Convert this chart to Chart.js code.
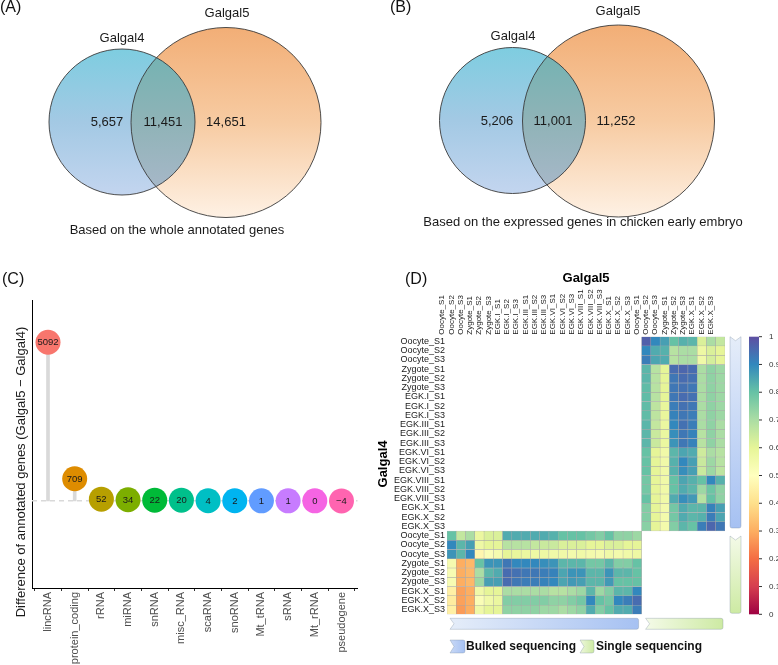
<!DOCTYPE html>
<html>
<head>
<meta charset="utf-8">
<script src="https://cdn.jsdelivr.net/npm/chart.js@4.4.1/dist/chart.umd.min.js"></script>
<style>
  html, body { margin: 0; padding: 0; background: #fff; }
  #page { position: relative; width: 778px; height: 665px; overflow: hidden; }
  canvas { position: absolute; }
</style>
</head>
<body>
<div id="page">
  <canvas id="vennA" width="390" height="260" style="left:0;top:0;"></canvas>
  <canvas id="vennB" width="388" height="260" style="left:390px;top:0;"></canvas>
  <canvas id="lolli" width="370" height="395" style="left:0;top:270px;"></canvas>
  <canvas id="heat" width="408" height="395" style="left:370px;top:270px;"></canvas>
</div>
<script>
// ---- data ----
const vennSets = ['Galgal4', 'Galgal5'];
// only Galgal4, shared, only Galgal5
const countsAll = [5657, 11451, 14651];
const countsExpressed = [5206, 11001, 11252];
const captionAll = 'Based on the whole annotated genes';
const captionExpressed = 'Based on the expressed genes in chicken early embryo';

const rnaTypes = ['lincRNA', 'protein_coding', 'rRNA', 'miRNA', 'snRNA', 'misc_RNA',
  'scaRNA', 'snoRNA', 'Mt_tRNA', 'sRNA', 'Mt_rRNA', 'pseudogene'];
const geneDiff = [5092, 709, 52, 34, 22, 20, 4, 2, 1, 1, 0, -4];
const rnaColors = ['#F8766D', '#DE8C00', '#B79F00', '#7CAE00', '#00BA38', '#00C08B',
  '#00BFC4', '#00B4F0', '#619CFF', '#C77CFF', '#F564E3', '#FF64B0'];

const bulkSamples = ['Oocyte_S1', 'Oocyte_S2', 'Oocyte_S3', 'Zygote_S1', 'Zygote_S2', 'Zygote_S3',
  'EGK.I_S1', 'EGK.I_S2', 'EGK.I_S3', 'EGK.III_S1', 'EGK.III_S2', 'EGK.III_S3',
  'EGK.VI_S1', 'EGK.VI_S2', 'EGK.VI_S3', 'EGK.VIII_S1', 'EGK.VIII_S2', 'EGK.VIII_S3',
  'EGK.X_S1', 'EGK.X_S2', 'EGK.X_S3'];
const singleSamples = ['Oocyte_S1', 'Oocyte_S2', 'Oocyte_S3', 'Zygote_S1', 'Zygote_S2', 'Zygote_S3',
  'EGK.X_S1', 'EGK.X_S2', 'EGK.X_S3'];
const heatRows = bulkSamples.concat(singleSamples); // Galgal4
const heatCols = bulkSamples.concat(singleSamples); // Galgal5

// rows: Galgal4 bulk samples, cols: Galgal5 single samples
const bulk4Single5 = [
  [0.97, 0.90, 0.86, 0.80, 0.83, 0.82, 0.62, 0.70, 0.66],
  [0.90, 0.84, 0.83, 0.68, 0.70, 0.70, 0.57, 0.62, 0.60],
  [0.92, 0.85, 0.84, 0.68, 0.70, 0.70, 0.56, 0.63, 0.60],
  [0.82, 0.68, 0.60, 0.95, 0.96, 0.95, 0.70, 0.74, 0.72],
  [0.82, 0.68, 0.60, 0.93, 0.95, 0.94, 0.70, 0.74, 0.72],
  [0.81, 0.68, 0.60, 0.93, 0.94, 0.93, 0.70, 0.74, 0.72],
  [0.81, 0.68, 0.60, 0.93, 0.95, 0.94, 0.70, 0.74, 0.72],
  [0.81, 0.67, 0.59, 0.92, 0.94, 0.93, 0.70, 0.74, 0.72],
  [0.81, 0.67, 0.59, 0.91, 0.93, 0.92, 0.70, 0.74, 0.72],
  [0.82, 0.66, 0.58, 0.90, 0.94, 0.92, 0.70, 0.74, 0.70],
  [0.82, 0.65, 0.58, 0.89, 0.93, 0.91, 0.68, 0.74, 0.70],
  [0.82, 0.65, 0.58, 0.88, 0.93, 0.91, 0.68, 0.74, 0.70],
  [0.80, 0.60, 0.56, 0.82, 0.85, 0.84, 0.64, 0.70, 0.68],
  [0.80, 0.60, 0.56, 0.83, 0.90, 0.86, 0.65, 0.72, 0.68],
  [0.80, 0.60, 0.56, 0.83, 0.89, 0.86, 0.65, 0.72, 0.67],
  [0.78, 0.60, 0.56, 0.80, 0.85, 0.83, 0.80, 0.90, 0.83],
  [0.78, 0.60, 0.56, 0.80, 0.84, 0.82, 0.72, 0.79, 0.74],
  [0.80, 0.60, 0.56, 0.84, 0.89, 0.87, 0.68, 0.80, 0.74],
  [0.76, 0.60, 0.55, 0.78, 0.84, 0.82, 0.82, 0.91, 0.86],
  [0.76, 0.60, 0.55, 0.78, 0.84, 0.82, 0.83, 0.92, 0.85],
  [0.75, 0.60, 0.55, 0.76, 0.82, 0.80, 0.92, 0.96, 0.93]
];
// rows: Galgal4 single samples, cols: Galgal5 bulk samples
const single4Bulk5 = [
  [0.80, 0.66, 0.70, 0.58, 0.62, 0.62, 0.84, 0.84, 0.84, 0.84, 0.84, 0.83, 0.80, 0.80, 0.80, 0.78, 0.76, 0.80, 0.74, 0.74, 0.72],
  [0.90, 0.82, 0.86, 0.57, 0.60, 0.60, 0.68, 0.68, 0.68, 0.66, 0.65, 0.65, 0.62, 0.62, 0.62, 0.60, 0.60, 0.62, 0.62, 0.60, 0.60],
  [0.88, 0.82, 0.90, 0.47, 0.52, 0.54, 0.60, 0.59, 0.58, 0.57, 0.57, 0.56, 0.56, 0.55, 0.56, 0.55, 0.54, 0.56, 0.55, 0.56, 0.57],
  [0.54, 0.30, 0.32, 0.80, 0.88, 0.88, 0.93, 0.90, 0.90, 0.90, 0.89, 0.88, 0.82, 0.82, 0.82, 0.78, 0.78, 0.82, 0.76, 0.76, 0.80],
  [0.53, 0.30, 0.32, 0.70, 0.82, 0.84, 0.95, 0.94, 0.93, 0.93, 0.92, 0.91, 0.85, 0.88, 0.88, 0.82, 0.82, 0.88, 0.82, 0.82, 0.80],
  [0.53, 0.30, 0.32, 0.72, 0.86, 0.86, 0.95, 0.93, 0.92, 0.92, 0.91, 0.90, 0.85, 0.87, 0.86, 0.82, 0.82, 0.87, 0.80, 0.80, 0.80],
  [0.45, 0.28, 0.30, 0.56, 0.60, 0.60, 0.70, 0.70, 0.70, 0.70, 0.70, 0.68, 0.68, 0.70, 0.72, 0.82, 0.72, 0.76, 0.82, 0.82, 0.90],
  [0.44, 0.28, 0.30, 0.52, 0.56, 0.58, 0.76, 0.76, 0.76, 0.76, 0.76, 0.74, 0.74, 0.76, 0.78, 0.90, 0.80, 0.78, 0.90, 0.92, 0.95],
  [0.45, 0.27, 0.30, 0.56, 0.60, 0.60, 0.74, 0.74, 0.74, 0.74, 0.72, 0.72, 0.70, 0.72, 0.74, 0.84, 0.76, 0.80, 0.84, 0.84, 0.92]
];
const colorbarTicks = [0, 0.1, 0.2, 0.3, 0.4, 0.5, 0.6, 0.7, 0.8, 0.9, 1];

// ---- helpers ----
Chart.defaults.font.family = '"Liberation Sans", Arial, Helvetica, sans-serif';
Chart.defaults.color = '#1a1a1a';

const spectralStops = ['#9e0142', '#d53e4f', '#f46d43', '#fdae61', '#fee08b', '#ffffbf',
  '#e6f598', '#abdda4', '#66c2a5', '#3288bd', '#5e4fa2'];
function hexRgb(h) {
  return [parseInt(h.slice(1, 3), 16), parseInt(h.slice(3, 5), 16), parseInt(h.slice(5, 7), 16)];
}
function spectral(v) {
  const t = Math.max(0, Math.min(1, v)) * (spectralStops.length - 1);
  const i = Math.min(Math.floor(t), spectralStops.length - 2);
  const f = t - i;
  const a = hexRgb(spectralStops[i]), b = hexRgb(spectralStops[i + 1]);
  const c = a.map((x, k) => Math.round(x + (b[k] - x) * f));
  return `rgb(${c[0]},${c[1]},${c[2]})`;
}
function cellValue(r, c) {
  const nb = bulkSamples.length;
  if (r < nb && c >= nb) return bulk4Single5[r][c - nb];
  if (r >= nb && c < nb) return single4Bulk5[r - nb][c];
  return null;
}
function panelTag(ctx, text, x, y) {
  ctx.save();
  ctx.font = '16px "Liberation Sans", Arial, sans-serif';
  ctx.fillStyle = '#111';
  ctx.textBaseline = 'middle';
  ctx.fillText(text, x, y);
  ctx.restore();
}

// ---- Venn panels (A, B) ----
const vennStyle = {
  blue: ['#7ecde0', '#a3c9e4', '#c3d5ef'],
  orange: ['#f2ae76', '#f7cba2', '#fef1e4'],
  both: ['#72b3b2', '#8fb3b7', '#a9b8ca']
};
function gradFor(ctx, c, stops) {
  const g = ctx.createLinearGradient(0, c.y - c.r, 0, c.y + c.r);
  stops.forEach((s, i) => g.addColorStop(i / (stops.length - 1), s));
  return g;
}
function vennPlugin(layout, counts, caption, tag) {
  return {
    id: 'venn',
    afterDraw(chart) {
      const ctx = chart.ctx;
      const [c4, c5] = layout.circles;
      const disc = c => { ctx.beginPath(); ctx.arc(c.x, c.y, c.r, 0, Math.PI * 2); };
      ctx.save();
      disc(c5); ctx.fillStyle = gradFor(ctx, c5, vennStyle.orange); ctx.fill();
      disc(c4); ctx.fillStyle = gradFor(ctx, c4, vennStyle.blue); ctx.fill();
      ctx.save();
      disc(c5); ctx.clip();
      disc(c4); ctx.fillStyle = gradFor(ctx, c4, vennStyle.both); ctx.fill();
      ctx.restore();
      ctx.strokeStyle = '#3a3a3a';
      ctx.lineWidth = 0.9;
      disc(c5); ctx.stroke();
      disc(c4); ctx.stroke();

      ctx.fillStyle = '#1a1a1a';
      ctx.font = '13px "Liberation Sans", Arial, sans-serif';
      ctx.textAlign = 'center';
      ctx.textBaseline = 'middle';
      vennSets.forEach((s, i) => ctx.fillText(s, layout.setLabels[i].x, layout.setLabels[i].y));
      counts.forEach((n, i) => ctx.fillText(n.toLocaleString('en-US'), layout.countX[i], layout.countY));
      ctx.fillText(caption, layout.caption.x, layout.caption.y);
      ctx.restore();
      panelTag(ctx, tag, 0, 8);
    }
  };
}
function vennChart(id, layout, counts, caption, tag) {
  new Chart(document.getElementById(id), {
    type: 'scatter',
    data: { datasets: [] },
    options: {
      responsive: false, animation: false, events: [],
      plugins: { legend: { display: false }, tooltip: { enabled: false } },
      scales: { x: { display: false }, y: { display: false } }
    },
    plugins: [vennPlugin(layout, counts, caption, tag)]
  });
}
vennChart('vennA', {
  circles: [{ x: 122, y: 122, r: 73 }, { x: 226, y: 122.5, r: 95 }],
  setLabels: [{ x: 122, y: 38 }, { x: 227, y: 13 }],
  countX: [107, 163, 226], countY: 122,
  caption: { x: 177, y: 230 }
}, countsAll, captionAll, '(A)');
vennChart('vennB', {
  circles: [{ x: 122.5, y: 120.5, r: 73 }, { x: 228.5, y: 121, r: 96 }],
  setLabels: [{ x: 123, y: 36 }, { x: 228, y: 11 }],
  countX: [107, 163, 226], countY: 121,
  caption: { x: 193, y: 222 }
}, countsExpressed, captionExpressed, '(B)');

// ---- lollipop panel (C) ----
const lolliDecor = {
  id: 'lolliDecor',
  beforeDatasetsDraw(chart) {
    const { ctx, chartArea, scales } = chart;
    const y0 = scales.y.getPixelForValue(0);
    ctx.save();
    ctx.strokeStyle = '#d9d9d9';
    ctx.lineWidth = 1.5;
    ctx.setLineDash([5, 4]);
    ctx.beginPath();
    ctx.moveTo(chartArea.left, y0);
    ctx.lineTo(chartArea.right, y0);
    ctx.stroke();
    ctx.restore();
  },
  afterDatasetsDraw(chart) {
    const ctx = chart.ctx;
    const meta = chart.getDatasetMeta(0);
    ctx.save();
    ctx.font = '9.5px "Liberation Sans", Arial, sans-serif';
    ctx.fillStyle = '#1a1a1a';
    ctx.textAlign = 'center';
    ctx.textBaseline = 'middle';
    meta.data.forEach((pt, i) => {
      const v = geneDiff[i];
      ctx.fillText(v < 0 ? '\u2212' + Math.abs(v) : String(v), pt.x, pt.y + 0.5);
    });
    ctx.restore();
  },
  afterDraw(chart) {
    const ctx = chart.ctx;
    ctx.save();
    ctx.translate(21, 202);
    ctx.rotate(-Math.PI / 2);
    ctx.font = '13px "Liberation Sans", Arial, sans-serif';
    ctx.fillStyle = '#1a1a1a';
    ctx.textAlign = 'center';
    ctx.textBaseline = 'middle';
    ctx.fillText('Difference of annotated genes (Galgal5 \u2212 Galgal4)', 0, 0);
    ctx.restore();
    panelTag(ctx, '(C)', 2, 10);
  }
};
new Chart(document.getElementById('lolli'), {
  data: {
    datasets: [
      {
        type: 'scatter',
        data: geneDiff.map((v, i) => ({ x: i, y: v })),
        backgroundColor: rnaColors,
        borderWidth: 0,
        pointRadius: 12.5,
        pointHoverRadius: 12.5,
        order: 0
      },
      {
        type: 'bar',
        data: geneDiff.map((v, i) => ({ x: i, y: v })),
        backgroundColor: '#d9d9d9',
        barThickness: 3,
        order: 1
      }
    ]
  },
  options: {
    responsive: false, animation: false, events: [],
    layout: { padding: { left: 14, top: 30, right: 8, bottom: 0 } },
    plugins: { legend: { display: false }, tooltip: { enabled: false } },
    scales: {
      x: {
        type: 'linear', min: -0.6, max: 11.6, offset: false,
        afterBuildTicks: s => { s.ticks = rnaTypes.map((_, i) => ({ value: i })); },
        afterFit: s => { s.height = 77; },
        ticks: {
          autoSkip: false, minRotation: 90, maxRotation: 90, padding: 1,
          color: '#4d4d4d', font: { size: 11 },
          callback: (v, i) => rnaTypes[i]
        },
        grid: { display: true, drawOnChartArea: false, drawTicks: true, tickLength: 3, color: '#333' },
        border: { display: true, color: '#000', width: 1 }
      },
      y: {
        type: 'linear', min: -2800, max: 6450,
        afterFit: s => { s.width = 18; },
        ticks: { display: false },
        grid: { display: false, drawTicks: false },
        border: { display: true, color: '#000', width: 1 }
      }
    }
  },
  plugins: [lolliDecor]
});

// ---- heatmap panel (D) ----
function annotBar(ctx, x, y, w, h, vertical, c0, c1) {
  const n = 4;
  const g = vertical ? ctx.createLinearGradient(0, y, 0, y + h) : ctx.createLinearGradient(x, 0, x + w, 0);
  g.addColorStop(0, c0);
  g.addColorStop(1, c1);
  ctx.beginPath();
  if (vertical) {
    ctx.moveTo(x, y);
    ctx.lineTo(x + w / 2, y + n);
    ctx.lineTo(x + w, y);
    ctx.lineTo(x + w, y + h - 2);
    ctx.quadraticCurveTo(x + w, y + h, x + w - 2, y + h);
    ctx.lineTo(x + 2, y + h);
    ctx.quadraticCurveTo(x, y + h, x, y + h - 2);
  } else {
    ctx.moveTo(x, y);
    ctx.lineTo(x + w - 2, y);
    ctx.quadraticCurveTo(x + w, y, x + w, y + 2);
    ctx.lineTo(x + w, y + h - 2);
    ctx.quadraticCurveTo(x + w, y + h, x + w - 2, y + h);
    ctx.lineTo(x, y + h);
    ctx.lineTo(x + n, y + h / 2);
  }
  ctx.closePath();
  ctx.fillStyle = g;
  ctx.fill();
  ctx.strokeStyle = 'rgba(110,130,150,0.3)';
  ctx.lineWidth = 1;
  ctx.stroke();
}
const heatDecor = {
  id: 'heatDecor',
  afterDraw(chart) {
    const { ctx, chartArea, scales } = chart;
    const nb = bulkSamples.length;
    const yTop = scales.y.getPixelForValue(0);
    const yMid = scales.y.getPixelForValue(nb);
    const yBot = scales.y.getPixelForValue(heatRows.length);
    const cellW = (chartArea.right - chartArea.left) / heatCols.length;
    const xMid = chartArea.left + nb * cellW;
    const blue = ['#e5edf9', '#a6c1f2'], green = ['#f4fae8', '#cdeaa3'];
    ctx.save();
    // y axis title
    ctx.save();
    ctx.translate(13, 194);
    ctx.rotate(-Math.PI / 2);
    ctx.font = 'bold 13px "Liberation Sans", Arial, sans-serif';
    ctx.fillStyle = '#000';
    ctx.textAlign = 'center';
    ctx.textBaseline = 'middle';
    ctx.fillText('Galgal4', 0, 0);
    ctx.restore();
    // side annotation bars
    const vx = chartArea.right + 5;
    annotBar(ctx, vx, yTop, 11, yMid - yTop - 3, true, blue[0], blue[1]);
    annotBar(ctx, vx, yMid + 5, 11, yBot - yMid - 6, true, green[0], green[1]);
    const hy = chartArea.bottom + 4;
    annotBar(ctx, chartArea.left + 3, hy, xMid - chartArea.left - 6, 11, false, blue[0], blue[1]);
    annotBar(ctx, xMid + 4, hy, chartArea.right - xMid - 6, 11, false, green[0], green[1]);
    // legend
    annotBar(ctx, 80, 370, 15, 13, false, '#c9d9f6', '#a6c1f2');
    annotBar(ctx, 210, 370, 14, 13, false, '#eef7dc', '#cdeaa3');
    ctx.fillStyle = '#111';
    ctx.font = 'bold 12px "Liberation Sans", Arial, sans-serif';
    ctx.textBaseline = 'middle';
    ctx.fillText('Bulked sequencing', 96, 377);
    ctx.fillText('Single sequencing', 226, 377);
    // colour bar
    const cx = 379, cw = 10;
    const g = ctx.createLinearGradient(0, yBot, 0, yTop);
    colorbarTicks.forEach(v => g.addColorStop(v, spectral(v)));
    ctx.fillStyle = g;
    ctx.fillRect(cx, yTop, cw, yBot - yTop);
    ctx.strokeStyle = '#333';
    ctx.lineWidth = 1;
    ctx.font = '8px "Liberation Sans", Arial, sans-serif';
    ctx.fillStyle = '#333';
    colorbarTicks.forEach(v => {
      const y = yBot - v * (yBot - yTop);
      ctx.beginPath();
      ctx.moveTo(cx + cw, y);
      ctx.lineTo(cx + cw + 3, y);
      ctx.stroke();
      ctx.fillText(v === 0 || v === 1 ? String(v) : v.toFixed(1), 399, y);
    });
    ctx.restore();
    panelTag(ctx, '(D)', 35, 10);
  }
};
new Chart(document.getElementById('heat'), {
  type: 'bar',
  data: {
    labels: heatCols,
    datasets: heatRows.map((name, r) => ({
      label: name,
      data: heatCols.map((_, c) => cellValue(r, c) === null ? null : [r, r + 1]),
      backgroundColor: heatCols.map((_, c) => {
        const v = cellValue(r, c);
        return v === null ? 'rgba(0,0,0,0)' : spectral(v);
      }),
      borderColor: '#a9a9a9',
      borderWidth: 0.5,
      borderSkipped: false,
      grouped: false,
      barPercentage: 1,
      categoryPercentage: 1
    }))
  },
  options: {
    responsive: false, animation: false, events: [],
    layout: { padding: { left: 0, top: 0, right: 53, bottom: 50.7 } },
    plugins: { legend: { display: false }, tooltip: { enabled: false } },
    scales: {
      x: {
        type: 'category', position: 'top', offset: true,
        afterFit: s => { s.height = 66.7; },
        ticks: { autoSkip: false, minRotation: 90, maxRotation: 90, padding: 2, font: { size: 8 }, color: '#1a1a1a' },
        grid: { display: false, drawTicks: false },
        border: { display: false },
        title: { display: true, text: 'Galgal5', color: '#000', font: { size: 13, weight: 'bold' }, padding: { top: 1, bottom: 0 } }
      },
      y: {
        type: 'linear', min: 0, max: heatRows.length, reverse: true,
        afterBuildTicks: s => { s.ticks = heatRows.map((_, i) => ({ value: i + 0.5 })); },
        afterFit: s => { s.width = 77; },
        ticks: { autoSkip: false, padding: 2, font: { size: 9 }, color: '#1a1a1a', callback: (v, i) => heatRows[i] },
        grid: { display: false, drawTicks: false },
        border: { display: false }
      }
    }
  },
  plugins: [heatDecor]
});
</script>
</body>
</html>
